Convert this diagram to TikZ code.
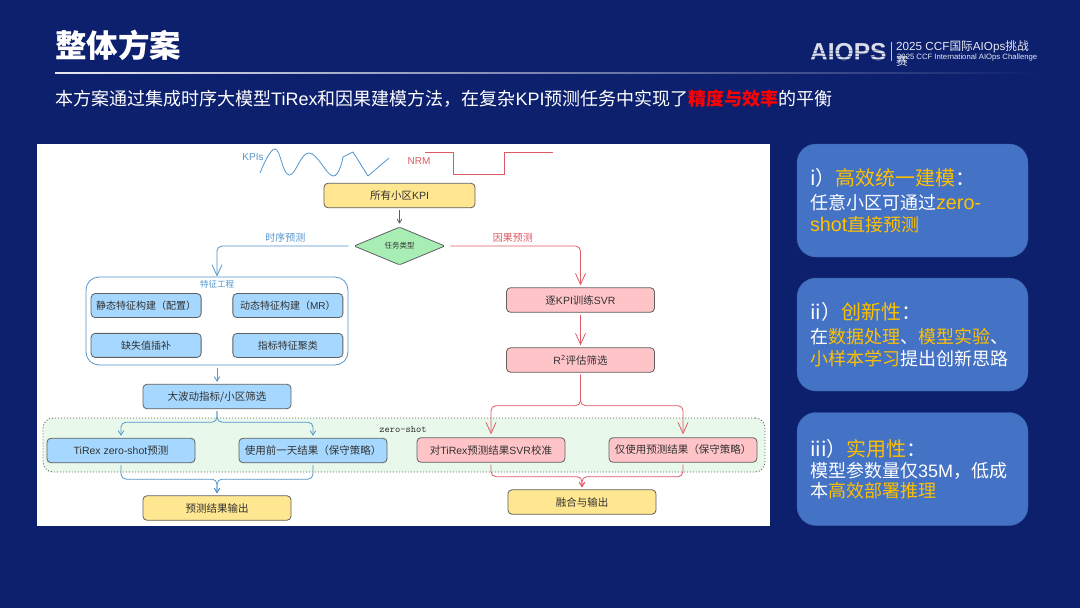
\documentclass[tikz,border=0pt]{standalone}
\usepackage{fontspec}
\setmainfont{Noto Sans CJK SC}
\newfontfamily\latfont{Liberation Sans}
\usepackage{tikz}
\usetikzlibrary{shapes, arrows.meta, positioning, calc, matrix}
\definecolor{slidenavy}{RGB}{13, 32, 110}
\definecolor{cardblue}{RGB}{68, 114, 196}
\definecolor{cardedge}{RGB}{60, 100, 175}
\definecolor{goldtext}{RGB}{255, 192, 0}
\definecolor{flowblue}{RGB}{84, 150, 204}
\definecolor{flowred}{RGB}{222, 90, 100}
\definecolor{boxblue}{RGB}{166, 216, 255}
\definecolor{boxpink}{RGB}{255, 196, 200}
\definecolor{boxyellow}{RGB}{255, 230, 145}
\definecolor{boxgreen}{RGB}{168, 238, 180}
\definecolor{zonegreen}{RGB}{232, 249, 236}
\definecolor{boxedge}{RGB}{95, 95, 95}
\definecolor{boxtext}{RGB}{50, 50, 50}
\newcommand{\hl}[1]{\textcolor{goldtext}{#1}}
\newcommand{\lat}[1]{{\latfont #1}}
\newcommand{\latcard}[1]{{\latfont\fontsize{19.8}{21}\selectfont #1}}
\newcommand{\px}[1]{\fontsize{#1}{#1}\selectfont}
\tikzset{
  flowbox/.style={rectangle, rounded corners=4pt, draw=boxedge, line width=0.8pt, minimum width=148pt, minimum height=24.5pt, inner sep=0pt, text=boxtext, font=\px{10.5}},
  bluebox/.style={flowbox, fill=boxblue},
  pinkbox/.style={flowbox, fill=boxpink},
  yellowbox/.style={flowbox, fill=boxyellow},
  featbox/.style={bluebox, minimum width=110pt, minimum height=24pt, font=\px{10}},
  taskdiamond/.style={diamond, aspect=2.4, draw=boxedge, line width=0.8pt, fill=boxgreen, minimum width=91pt, minimum height=38pt, inner sep=0pt, rounded corners=1.5pt, text=boxtext, font=\px{7.5}},
  bluelink/.style={draw=flowblue, line width=0.8pt, rounded corners=5pt, -{Straight Barb[length=4.5pt,width=5.5pt]}, shorten <=2pt, shorten >=2pt},
  redlink/.style={draw=flowred, line width=0.8pt, rounded corners=5pt, -{Straight Barb[length=4.5pt,width=5.5pt]}, shorten <=2pt, shorten >=2pt},
  bigblue/.style={bluelink, -{Straight Barb[length=11pt,width=10pt]}},
  bigred/.style={redlink, -{Straight Barb[length=11pt,width=10pt]}},
  infocard/.style={rectangle, rounded corners=19pt, draw=cardedge, fill=cardblue, minimum width=231pt, minimum height=113pt, text width=205pt, inner sep=0pt, align=left, text=white}
}
\newcommand{\cardhead}{\fontsize{20}{24}\selectfont}
\newcommand{\cardbody}{\fontsize{18}{21}\selectfont}

\begin{document}
\begin{tikzpicture}[x=1pt, y=-1pt]
    \useasboundingbox (0, 0) rectangle (1080, 608);
    \fill[slidenavy] (0, 0) rectangle (1080, 608);
    % Slide header
    \node[anchor=west, inner sep=0pt, text=white, font=\px{31.5}\bfseries] (title) at (55, 45) {整体方案};
    \shade[left color=white!90!slidenavy, right color=slidenavy] (55, 72.7) rectangle (1040, 73.9);
    \node[anchor=west, inner sep=0pt, text=white, font=\px{18}] (subtitle) at (55, 99) {本方案通过集成时序大模型\lat{TiRex}和因果建模方法，在复杂\lat{KPI}预测任务中实现了\textcolor{red}{\bfseries 精度与效率}的平衡};
    % Logo
    \node[anchor=west, inner sep=0pt, text=white!85!slidenavy, font=\latfont\px{24.5}\bfseries] (logo) at (810, 52) {AIOPS};
    \foreach \stripe/\fade in {50/0.3, 53/0.45, 56/0.55, 59/0.65} {
        \draw[slidenavy, line width=0.9pt, opacity=\fade] (808, \stripe) -- (888, \stripe);
    }
    \draw[white!75!slidenavy, line width=0.8pt] (891, 42) -- (891, 61);
    \node[anchor=west, inner sep=0pt, text=white!90!slidenavy, font=\px{11.7}] (logocn) at (896, 47) {\lat{2025 CCF}国际\lat{AIOps}挑战};
    \node[anchor=west, inner sep=0pt, text=white!90!slidenavy, font=\px{11.7}] (logocnb) at (896, 60.5) {赛};
    \node[anchor=west, inner sep=0pt, text=white!90!slidenavy, font=\latfont\px{7.7}] (logoen) at (897, 58) {2025 CCF International AIOps Challenge};

    % White flow panel
    \fill[white] (37, 144) rectangle (769.5, 526);
    \node[text=flowblue, font=\latfont\px{10}, inner sep=0pt] (kpilabel) at (253, 157) {KPIs};
    \draw[flowblue, line width=0.8pt, line join=round] plot[smooth, tension=0.7] coordinates {(260, 173) (275, 149) (289, 175) (309, 153) (333, 176) (343, 157)} -- (353, 152) -- (368, 176) -- (389, 158);
    \node[text=flowred, font=\latfont\px{10}, inner sep=0pt] (nrmlabel) at (419, 161) {NRM};
    \draw[flowred, line width=0.8pt] (425, 152) -- (453, 152) -- (453, 174) -- (504, 174) -- (504, 152) -- (553, 152);

    \node[yellowbox, minimum width=151pt] (allcells) at (399.5, 195.5) {所有小区\lat{KPI}};
    \node[taskdiamond] (tasktype) at (399.5, 246) {任务类型};
    \draw[draw=boxedge, line width=0.8pt, -{Straight Barb[length=4pt,width=5pt]}, shorten <=2pt, shorten >=3pt] (allcells) -- (tasktype);

    % Feature engineering group
    \node[rectangle, rounded corners=13pt, draw=flowblue, line width=0.8pt, fill=white, minimum width=262pt, minimum height=88pt] (featgroup) at (217, 321) {};
    \node[below=4pt of featgroup.north, inner sep=0pt, text=flowblue, font=\px{8.5}] (featlabel) {特征工程};
    \matrix[matrix of nodes, ampersand replacement=\&, column sep=31pt, row sep=15pt] (F) at (217, 325.5) {
        |[featbox]| 静态特征构建（配置） \& |[featbox]| 动态特征构建（\lat{MR}） \\
        |[featbox]| 缺失值插补 \& |[featbox]| 指标特征聚类 \\
    };
    \node[bluebox] (filter) at (217, 396.5) {大波动指标/小区筛选};

    % Zero-shot zone
    \node[rectangle, rounded corners=10pt, draw=boxedge, dash pattern=on 1pt off 2pt, line width=0.9pt, fill=zonegreen, minimum width=722pt, minimum height=54pt] (zerozone) at (404, 445) {};
    \node[inner sep=0pt, text=boxtext, font=\ttfamily\px{10}] (zerolabel) at (403, 429) {zero-shot};
    \node[bluebox] (tirex) at (121, 450.5) {\lat{TiRex zero-shot}预测};
    \node[bluebox] (prevday) at (313, 450.5) {使用前一天结果（保守策略）};
    \node[pinkbox] (calib) at (491, 450) {对\lat{TiRex}预测结果\lat{SVR}校准};
    \node[pinkbox] (predonly) at (683, 450) {仅使用预测结果（保守策略）};

    % Causal branch
    \node[pinkbox] (trainsvr) at (580.5, 300) {逐\lat{KPI}训练\lat{SVR}};
    \node[pinkbox] (rsquare) at (580.5, 360) {\lat{R\textsuperscript{2}}评估筛选};
    \node[yellowbox] (predout) at (217, 508) {预测结果输出};
    \node[yellowbox] (fusion) at (582, 502) {融合与输出};

    % Connectors
    \draw[bigblue, shorten <=5pt, shorten >=0pt] (tasktype.west) -| node[pos=0.25, above=3pt, inner sep=0pt, text=flowblue, font=\px{10}] (tslabel) {时序预测} (featgroup.north);
    \draw[bigred, shorten <=5pt] (tasktype.east) -| node[pos=0.25, above=3pt, inner sep=0pt, text=flowred, font=\px{10}] (causelabel) {因果预测} (trainsvr.north);
    \draw[bluelink, shorten <=3pt] (featgroup) -- (filter);
    \draw[bluelink] (filter.south) -- ++(0, 13) -| (tirex.north);
    \draw[bluelink] (filter.south) -- ++(0, 13) -| (prevday.north);
    \draw[bluelink] (tirex.south) |- ($(tirex.south) + (48, 16)$) -| (predout.north);
    \draw[bluelink] (prevday.south) |- ($(prevday.south) + (-48, 16)$) -| (predout.north);
    \draw[bigred, shorten >=2pt] (trainsvr) -- (rsquare);
    \draw[bigred, shorten >=3pt] (rsquare.south) -- ++(0, 33) -| (calib.north);
    \draw[bigred, shorten >=3pt] (rsquare.south) -- ++(0, 33) -| (predonly.north);
    \draw[redlink] (calib.south) |- ($(calib.south) + (45, 14)$) -| (fusion.north);
    \draw[redlink] (predonly.south) |- ($(predonly.south) + (-50, 14)$) -| (fusion.north);

    % Info cards
    \node[infocard] (cardone) at (912.5, 200.5) {\cardhead i）\hl{高效统一建模}：\\[3pt]\cardbody 任意小区可通过\hl{\latcard{zero-}}\\[4pt]\hl{\latcard{shot}直接预测}};
    \node[infocard] (cardtwo) at (912.5, 334.5) {\cardhead ii）\hl{创新性}：\\[3pt]\cardbody 在\hl{数据处理}、\hl{模型实验}、\\[4pt]\hl{小样本学习}提出创新思路};
    \node[infocard] (cardthree) at (912.5, 469) {\cardhead iii）\hl{实用性}：\\[0pt]\cardbody 模型参数量仅\lat{35M}，低成\\[2pt]本\hl{高效部署推理}};
\end{tikzpicture}
\end{document}
